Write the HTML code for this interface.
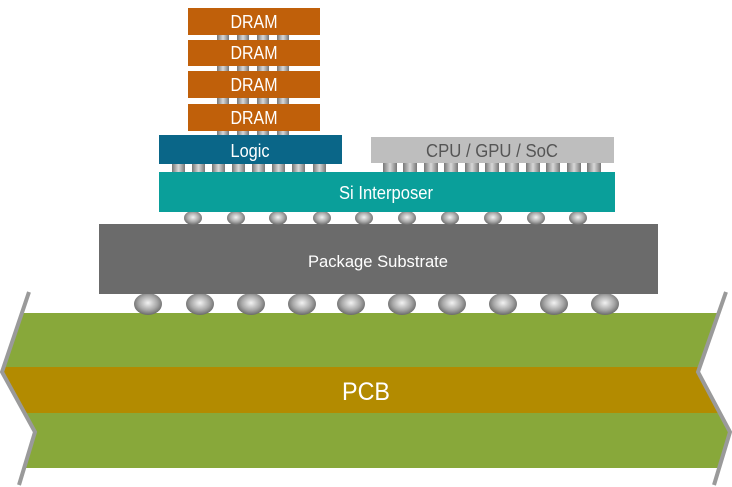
<!DOCTYPE html>
<html><head><meta charset="utf-8"><style>
html,body{margin:0;padding:0;background:#fff;}
svg{display:block}
text{font-family:"Liberation Sans Narrow","Liberation Sans",sans-serif;fill:#fff;text-anchor:middle;}
</style></head><body>
<svg width="732" height="487" viewBox="0 0 732 487" xmlns="http://www.w3.org/2000/svg">
<defs>
<radialGradient id="ball" cx="50%" cy="45%" r="55%">
<stop offset="0" stop-color="#f2f2f2"/><stop offset="0.6" stop-color="#a8a8a8"/><stop offset="1" stop-color="#6a6a6a"/>
</radialGradient>
<linearGradient id="mb" x1="0" x2="1" y1="0" y2="0">
<stop offset="0" stop-color="#777"/><stop offset="0.5" stop-color="#d8d8d8"/><stop offset="1" stop-color="#777"/>
</linearGradient>
<clipPath id="pcb"><polygon points="29,292 2,372 35,432 19,485 714,485 730,432 698,372 726,292"/></clipPath>
</defs>

<!-- PCB -->
<g clip-path="url(#pcb)">
<rect x="0" y="313" width="732" height="55" fill="#88a83a"/>
<rect x="0" y="367" width="732" height="46" fill="#b38b00"/>
<rect x="0" y="413" width="732" height="55" fill="#88a83a"/>
</g>
<polyline points="29,292 2,372 35,432 19,485" fill="none" stroke="#9a9a9a" stroke-width="4"/>
<polyline points="726,292 698,372 730,432 714,485" fill="none" stroke="#9a9a9a" stroke-width="4"/>
<text x="366" y="400" font-size="25" textLength="48" lengthAdjust="spacingAndGlyphs">PCB</text>

<!-- big balls -->
<g fill="url(#ball)">
<ellipse cx="148" cy="304" rx="14" ry="11"/><ellipse cx="200" cy="304" rx="14" ry="11"/>
<ellipse cx="251" cy="304" rx="14" ry="11"/><ellipse cx="302" cy="304" rx="14" ry="11"/>
<ellipse cx="351" cy="304" rx="14" ry="11"/><ellipse cx="402" cy="304" rx="14" ry="11"/>
<ellipse cx="452" cy="304" rx="14" ry="11"/><ellipse cx="503" cy="304" rx="14" ry="11"/>
<ellipse cx="554" cy="304" rx="14" ry="11"/><ellipse cx="605" cy="304" rx="14" ry="11"/>
</g>

<!-- package substrate -->
<rect x="99" y="224" width="559" height="70" fill="#6b6b6b"/>
<text x="378" y="267" font-size="17" textLength="140" lengthAdjust="spacingAndGlyphs">Package Substrate</text>

<!-- interposer balls -->
<g fill="url(#ball)">
<ellipse cx="193" cy="218" rx="9" ry="7"/><ellipse cx="236" cy="218" rx="9" ry="7"/>
<ellipse cx="278" cy="218" rx="9" ry="7"/><ellipse cx="322" cy="218" rx="9" ry="7"/>
<ellipse cx="364" cy="218" rx="9" ry="7"/><ellipse cx="407" cy="218" rx="9" ry="7"/>
<ellipse cx="450" cy="218" rx="9" ry="7"/><ellipse cx="493" cy="218" rx="9" ry="7"/>
<ellipse cx="536" cy="218" rx="9" ry="7"/><ellipse cx="578" cy="218" rx="9" ry="7"/>
</g>

<!-- interposer -->
<rect x="159" y="172" width="456" height="40" fill="#0a9f9a"/>
<text x="386" y="199" font-size="18" textLength="94" lengthAdjust="spacingAndGlyphs">Si Interposer</text>

<!-- microbumps logic -->
<g fill="url(#mb)">
<rect x="172" y="164" width="13" height="8"/><rect x="192" y="164" width="13" height="8"/>
<rect x="212" y="164" width="13" height="8"/><rect x="232" y="164" width="13" height="8"/>
<rect x="252" y="164" width="13" height="8"/><rect x="272" y="164" width="13" height="8"/>
<rect x="292" y="164" width="13" height="8"/><rect x="313" y="164" width="13" height="8"/>
<!-- cpu -->
<rect x="383" y="163" width="14" height="9"/><rect x="403" y="163" width="14" height="9"/>
<rect x="424" y="163" width="14" height="9"/><rect x="444" y="163" width="14" height="9"/>
<rect x="465" y="163" width="14" height="9"/><rect x="485" y="163" width="14" height="9"/>
<rect x="505" y="163" width="14" height="9"/><rect x="526" y="163" width="14" height="9"/>
<rect x="546" y="163" width="14" height="9"/><rect x="567" y="163" width="14" height="9"/>
<rect x="587" y="163" width="14" height="9"/>
<!-- dram stack -->
<rect x="217" y="35" width="12" height="5"/><rect x="237" y="35" width="12" height="5"/><rect x="257" y="35" width="12" height="5"/><rect x="277" y="35" width="12" height="5"/>
<rect x="217" y="66" width="12" height="5"/><rect x="237" y="66" width="12" height="5"/><rect x="257" y="66" width="12" height="5"/><rect x="277" y="66" width="12" height="5"/>
<rect x="217" y="98" width="12" height="6"/><rect x="237" y="98" width="12" height="6"/><rect x="257" y="98" width="12" height="6"/><rect x="277" y="98" width="12" height="6"/>
<rect x="217" y="131" width="12" height="5"/><rect x="237" y="131" width="12" height="5"/><rect x="257" y="131" width="12" height="5"/><rect x="277" y="131" width="12" height="5"/>
</g>

<!-- logic -->
<rect x="159" y="135" width="183" height="29" fill="#0a6688"/>
<text x="250" y="157" font-size="18" textLength="39" lengthAdjust="spacingAndGlyphs">Logic</text>

<!-- cpu -->
<rect x="371" y="137" width="243" height="26" fill="#bebebe"/>
<text x="492" y="157" font-size="18" textLength="132" lengthAdjust="spacingAndGlyphs" style="fill:#555">CPU / GPU / SoC</text>

<!-- DRAM -->
<g fill="#c0600a">
<rect x="188" y="8" width="132" height="27"/>
<rect x="188" y="40" width="132" height="26"/>
<rect x="188" y="71" width="132" height="27"/>
<rect x="188" y="104" width="132" height="27"/>
</g>
<text x="254" y="28" font-size="18" textLength="47" lengthAdjust="spacingAndGlyphs">DRAM</text>
<text x="254" y="59" font-size="18" textLength="47" lengthAdjust="spacingAndGlyphs">DRAM</text>
<text x="254" y="91" font-size="18" textLength="47" lengthAdjust="spacingAndGlyphs">DRAM</text>
<text x="254" y="124" font-size="18" textLength="47" lengthAdjust="spacingAndGlyphs">DRAM</text>
</svg>
</body></html>
